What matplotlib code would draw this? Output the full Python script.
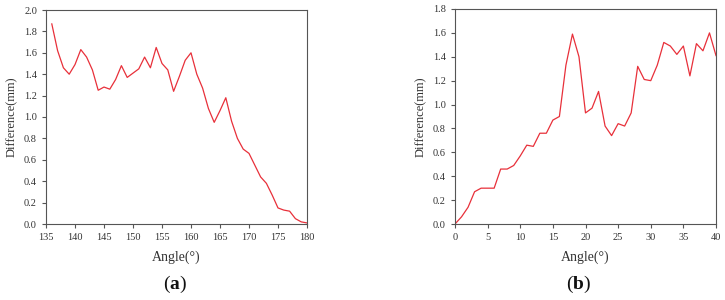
import numpy as np
import matplotlib.pyplot as plt

plt.rcParams['font.family'] = ['Liberation Serif', 'DejaVu Serif']
plt.rcParams['mathtext.fontset'] = 'custom'
plt.rcParams['mathtext.rm'] = 'Liberation Serif'
plt.rcParams['mathtext.bf'] = 'Liberation Serif:bold'

# panel (a)
angle_a = list(range(136, 181))
diff_a = [1.87, 1.62, 1.46, 1.40, 1.49, 1.63, 1.56, 1.44, 1.25, 1.28,
          1.26, 1.35, 1.48, 1.37, 1.41, 1.45, 1.56, 1.46, 1.65, 1.50,
          1.44, 1.24, 1.38, 1.53, 1.60, 1.40, 1.27, 1.08, 0.95, 1.06,
          1.18, 0.96, 0.80, 0.70, 0.66, 0.55, 0.44, 0.38, 0.27, 0.15,
          0.13, 0.12, 0.05, 0.02, 0.01]

# panel (b)
angle_b = list(range(0, 41))
diff_b = [0.00, 0.06, 0.14, 0.27, 0.30, 0.30, 0.30, 0.46, 0.46, 0.49,
          0.57, 0.66, 0.65, 0.76, 0.76, 0.87, 0.90, 1.33, 1.59, 1.40,
          0.93, 0.97, 1.11, 0.82, 0.74, 0.84, 0.82, 0.93, 1.32, 1.21,
          1.20, 1.33, 1.52, 1.49, 1.42, 1.49, 1.24, 1.51, 1.45, 1.60,
          1.41]

fig = plt.figure(figsize=(7.25, 3.0), dpi=100)
W, H = 725, 300

ax1 = fig.add_axes([46 / W, 1 - 224 / H, (307 - 46) / W, (224 - 10) / H])
ax2 = fig.add_axes([455 / W, 1 - 224 / H, (716 - 455) / W, (224 - 9) / H])

panels = [
    (ax1, angle_a, diff_a, (135, 180), np.arange(135, 181, 5), (0, 2.0), np.arange(0, 2.01, 0.2), "a", 175),
    (ax2, angle_b, diff_b, (0, 40), np.arange(0, 41, 5), (0, 1.8), np.arange(0, 1.81, 0.2), "b", 579),
]

for ax, x, y, xlim, xt, ylim, yt, tag, tx in panels:
    ax.plot(x, y, color='#e8303a', lw=0.9)
    ax.set_xlim(*xlim)
    ax.set_ylim(*ylim)
    ax.set_xticks(xt)
    ax.set_yticks(yt)
    ax.set_yticklabels([f"{v:.1f}" for v in yt])
    for s in ax.spines.values():
        s.set_color('#555555')
        s.set_linewidth(0.8)
    ax.tick_params(direction='out', length=3, width=0.8, colors='#555555',
                   labelcolor='#333333', labelsize=7.5)
    ax.set_xlabel("Angle(°)", fontsize=10, color='#333333', labelpad=6)
    ax.set_ylabel("Difference(mm)", fontsize=9, color='#333333', labelpad=4)
    fig.text(tx / W, 1 - 284 / H, r"($\mathbf{" + tag + r"}$)",
             ha='center', va='center', fontsize=14, color='#111111')

fig.savefig("out.png", dpi=100)
